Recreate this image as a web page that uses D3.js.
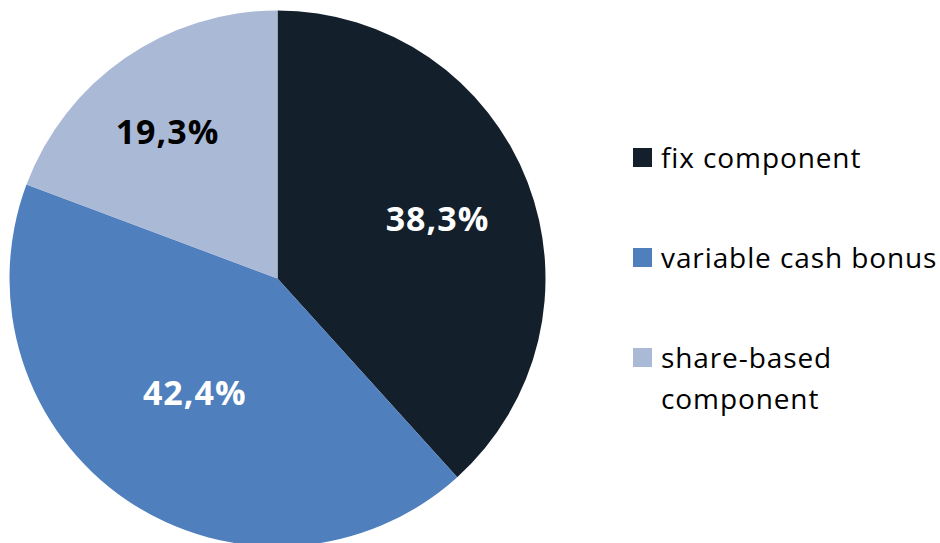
<!DOCTYPE html>
<html>
<head>
<meta charset="utf-8">
<script src="https://cdn.jsdelivr.net/npm/d3@7"></script>
<style>
  body { margin: 0; background: #fff; }
  svg { display: block; font-family: "Open Sans", Lato, sans-serif; font-variant-ligatures: none; }
</style>
</head>
<body>
<svg id="canvas" width="940" height="543"></svg>
<script>
var categories = ["fix component", "variable cash bonus", "share-based component"];
var shares = [38.3, 42.4, 19.3];
var labels = ["38,3%", "42,4%", "19,3%"];
var colors = ["#141f2c", "#4f7fbd", "#a9b9d6"];

var width = 940;
var height = 543;
var cx = 277.5, cy = 278.5, radius = 268;

var canvas = d3.select("#canvas");

var data = categories.map(function(c, i) {
  return { name: c, value: shares[i], label: labels[i], color: colors[i] };
});

var pie = d3.pie()
  .sort(null)
  .value(function(d) { return d.value; });

var arc = d3.arc().innerRadius(0).outerRadius(radius);

// label nudges, roughly where excel put them
var labelArc = d3.arc().innerRadius(165).outerRadius(165);
var nudge = [[6, 0], [10, -22], [-16, -11]];
var labelFill = ["#fff", "#fff", "#000"];

var g = canvas.append("g")
  .attr("transform", "translate(" + cx + "," + cy + ")");

var slices = pie(data);

g.selectAll("path")
  .data(slices)
  .enter()
  .append("path")
  .attr("d", arc)
  .attr("fill", function(d) { return d.data.color; });

g.selectAll("text")
  .data(slices)
  .enter()
  .append("text")
  .attr("transform", function(d, i) {
    var c = labelArc.centroid(d);
    return "translate(" + (c[0] + nudge[i][0]) + "," + (c[1] + nudge[i][1]) + ")";
  })
  .attr("text-anchor", "middle")
  .attr("dy", "0.36em")
  .attr("font-size", 34)
  .attr("letter-spacing", 1)
  .attr("font-weight", "bold")
  .attr("fill", function(d, i) { return labelFill[i]; })
  .text(function(d) { return d.data.label; });

// legend
var legendY = [158, 258, 358];
var legend = canvas.append("g").attr("transform", "translate(633,0)");

var items = legend.selectAll("g")
  .data(data)
  .enter()
  .append("g")
  .attr("transform", function(d, i) { return "translate(0," + legendY[i] + ")"; });

items.append("rect")
  .attr("x", 0)
  .attr("y", -10)
  .attr("width", 19)
  .attr("height", 19)
  .attr("fill", function(d) { return d.color; });

items.append("text")
  .attr("x", 28)
  .attr("y", 0)
  .attr("dy", "0.35em")
  .attr("font-size", 28)
  .attr("letter-spacing", 0.9)
  .attr("fill", "#000")
  .each(function(d) {
    var t = d3.select(this);
    if (d.name === "share-based component") {
      t.append("tspan").attr("x", 28).text("share-based");
      t.append("tspan").attr("x", 28).attr("dy", "1.46em").text("component");
    } else {
      t.text(d.name);
    }
  });
</script>
</body>
</html>
